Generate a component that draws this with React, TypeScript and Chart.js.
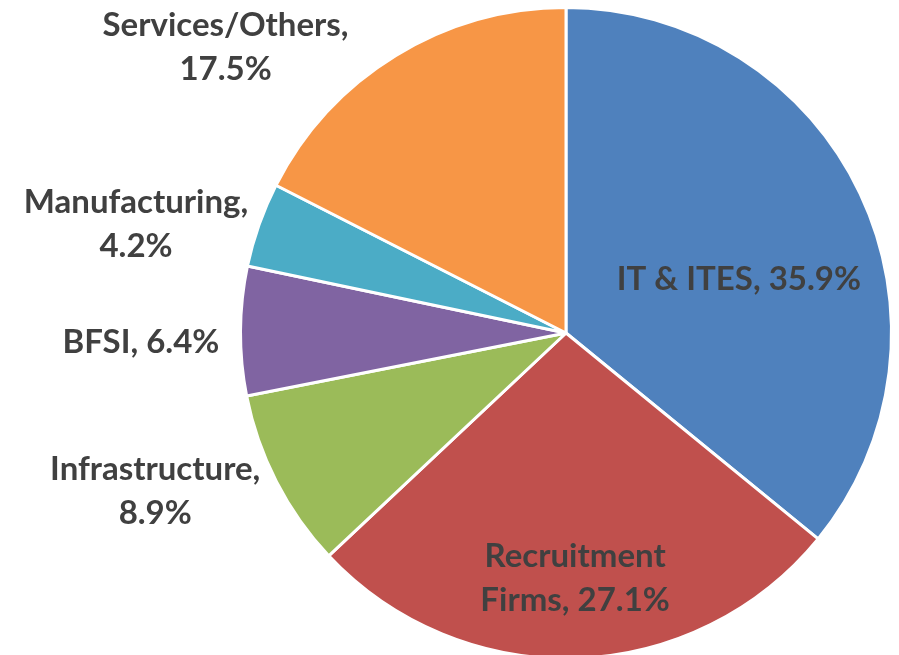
import React, { useEffect, useRef } from "react";
import { Chart, registerables } from "chart.js";

Chart.register(...registerables);

const categories = ["IT & ITES", "Recruitment Firms", "Infrastructure", "BFSI", "Manufacturing", "Services/Others"];
const shares = [35.9, 27.1, 8.9, 6.4, 4.2, 17.5];
const colors = ["#4F81BD", "#C0504D", "#9BBB59", "#8064A2", "#4BACC6", "#F79646"];
const labelLines = [
  ["IT & ITES, 35.9%"],
  ["Recruitment", "Firms, 27.1%"],
  ["Infrastructure,", "8.9%"],
  ["BFSI, 6.4%"],
  ["Manufacturing,", "4.2%"],
  ["Services/Others,", "17.5%"],
];
// label anchor, in units of the pie radius relative to its centre
const labelAnchors = [
  [0.531, -0.164],
  [0.028, 0.753],
  [-1.262, 0.488],
  [-1.306, 0.028],
  [-1.321, -0.333],
  [-1.046, -0.877],
];

const FONT = "bold 33px Lato, 'Open Sans', sans-serif";
const LINE_H = 44;

const labelPlugin = {
  id: "pieLabels",
  afterDatasetsDraw(chart: any) {
    const meta = chart.getDatasetMeta(0);
    if (!meta || !meta.data.length) return;
    const arc = meta.data[0];
    const { x, y, outerRadius } = arc.getProps(["x", "y", "outerRadius"], true);
    const ctx = chart.ctx;
    ctx.save();
    ctx.font = FONT;
    ctx.fillStyle = "#404040";
    ctx.textAlign = "center";
    ctx.textBaseline = "middle";
    labelLines.forEach((lines, i) => {
      const [ux, uy] = labelAnchors[i];
      const lx = x + ux * outerRadius;
      const ly = y + uy * outerRadius;
      const start = ly - ((lines.length - 1) * LINE_H) / 2;
      lines.forEach((t, j) => ctx.fillText(t, lx, start + j * LINE_H));
    });
    ctx.restore();
  },
};

export default function App() {
  const ref = useRef<HTMLCanvasElement>(null);
  useEffect(() => {
    document.body.style.margin = "0";
    document.body.style.overflow = "hidden";
    const chart = new Chart(ref.current!, {
      type: "pie",
      data: {
        labels: categories,
        datasets: [
          {
            data: shares,
            backgroundColor: colors,
            borderColor: "#ffffff",
            borderWidth: 3,
          },
        ],
      },
      options: {
        responsive: false,
        animation: false,
        layout: { padding: { top: 6, bottom: 5, left: 239, right: 6 } },
        plugins: { legend: { display: false }, tooltip: { enabled: false } },
      },
      plugins: [labelPlugin],
    });
    return () => chart.destroy();
  }, []);
  return (
    <div style={{ width: 899, height: 655, overflow: "hidden", background: "#fff" }}>
      <canvas ref={ref} width={899} height={665} />
    </div>
  );
}
